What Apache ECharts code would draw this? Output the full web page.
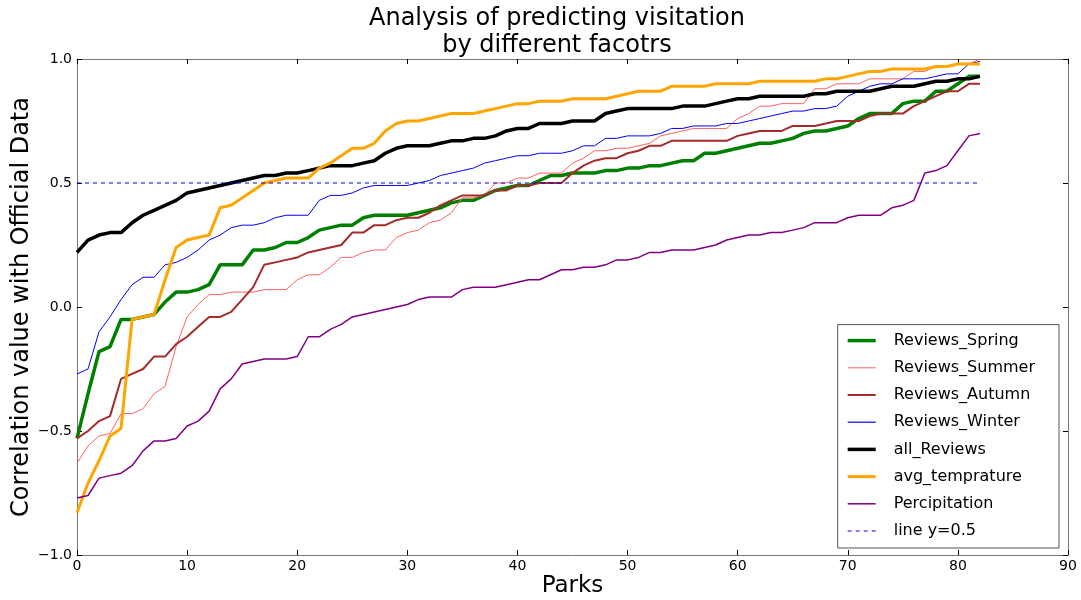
<!DOCTYPE html>
<html>
<head>
<meta charset="utf-8">
<script src="https://cdn.jsdelivr.net/npm/echarts@6/dist/echarts.min.js"></script>
<style>
  html, body { margin: 0; padding: 0; background: #fff; }
  #chart { width: 1081px; height: 600px; }
</style>
</head>
<body>
<div id="chart"></div>
<script>
// correlation of each predictor with official visitation, parks sorted per series
var spring = [-0.53, -0.35, -0.18, -0.16, -0.05, -0.05, -0.04, -0.03, 0.02, 0.06, 0.06, 0.07, 0.09, 0.17, 0.17, 0.17,
  0.23, 0.23, 0.24, 0.26, 0.26, 0.28, 0.31, 0.32, 0.33, 0.33, 0.36, 0.37, 0.37, 0.37, 0.37, 0.38,
  0.39, 0.40, 0.42, 0.43, 0.43, 0.45, 0.47, 0.48, 0.49, 0.49, 0.51, 0.53, 0.53, 0.54, 0.54,
  0.54, 0.55, 0.55, 0.56, 0.56, 0.57, 0.57, 0.58, 0.59, 0.59, 0.62, 0.62, 0.63, 0.64, 0.65,
  0.66, 0.66, 0.67, 0.68, 0.70, 0.71, 0.71, 0.72, 0.73, 0.76, 0.78, 0.78, 0.78, 0.82, 0.83, 0.83,
  0.87, 0.87, 0.90, 0.93, 0.93];
var summer = [-0.63, -0.56, -0.52, -0.51, -0.43, -0.43, -0.41, -0.35, -0.32, -0.16, -0.04, 0.01, 0.05, 0.05, 0.06, 0.06,
  0.06, 0.07, 0.07, 0.07, 0.11, 0.13, 0.13, 0.16, 0.20, 0.20, 0.22, 0.23, 0.23, 0.28, 0.30, 0.31,
  0.34, 0.35, 0.38, 0.44, 0.44, 0.45, 0.50, 0.50, 0.52, 0.52, 0.54, 0.54, 0.54, 0.58, 0.60,
  0.63, 0.63, 0.64, 0.64, 0.65, 0.66, 0.69, 0.70, 0.71, 0.72, 0.72, 0.72, 0.72, 0.76, 0.78,
  0.81, 0.81, 0.82, 0.82, 0.82, 0.88, 0.88, 0.90, 0.90, 0.90, 0.92, 0.92, 0.92, 0.92, 0.95, 0.95,
  0.97, 0.97, 0.98, 0.98, 1.00];
var autumn = [-0.53, -0.50, -0.46, -0.44, -0.29, -0.27, -0.25, -0.20, -0.20, -0.15, -0.12, -0.08, -0.04, -0.04, -0.02, 0.03,
  0.08, 0.17, 0.18, 0.19, 0.20, 0.22, 0.23, 0.24, 0.25, 0.30, 0.30, 0.33, 0.33, 0.35, 0.36, 0.36,
  0.38, 0.41, 0.43, 0.45, 0.45, 0.45, 0.47, 0.47, 0.49, 0.49, 0.50, 0.50, 0.50, 0.54, 0.57,
  0.59, 0.60, 0.60, 0.62, 0.63, 0.65, 0.65, 0.67, 0.67, 0.67, 0.67, 0.67, 0.67, 0.69, 0.70,
  0.71, 0.71, 0.71, 0.73, 0.73, 0.73, 0.74, 0.75, 0.75, 0.75, 0.77, 0.78, 0.78, 0.78, 0.81, 0.83,
  0.85, 0.87, 0.87, 0.90, 0.90];
var winter = [-0.27, -0.25, -0.10, -0.04, 0.03, 0.09, 0.12, 0.12, 0.17, 0.18, 0.20, 0.23, 0.27, 0.29, 0.32, 0.33,
  0.33, 0.34, 0.36, 0.37, 0.37, 0.37, 0.43, 0.45, 0.45, 0.46, 0.48, 0.49, 0.49, 0.49, 0.49, 0.50,
  0.51, 0.53, 0.54, 0.55, 0.56, 0.58, 0.59, 0.60, 0.61, 0.61, 0.62, 0.62, 0.62, 0.63, 0.65,
  0.65, 0.68, 0.68, 0.69, 0.69, 0.69, 0.70, 0.72, 0.72, 0.73, 0.73, 0.73, 0.74, 0.74, 0.75,
  0.76, 0.77, 0.78, 0.79, 0.79, 0.80, 0.80, 0.81, 0.85, 0.87, 0.89, 0.90, 0.90, 0.92, 0.92, 0.92,
  0.93, 0.94, 0.94, 0.98, 0.99];
var allReviews = [0.22, 0.27, 0.29, 0.30, 0.30, 0.34, 0.37, 0.39, 0.41, 0.43, 0.46, 0.47, 0.48, 0.49, 0.50, 0.51,
  0.52, 0.53, 0.53, 0.54, 0.54, 0.55, 0.56, 0.57, 0.57, 0.57, 0.58, 0.59, 0.62, 0.64, 0.65, 0.65,
  0.65, 0.66, 0.67, 0.67, 0.68, 0.68, 0.69, 0.71, 0.72, 0.72, 0.74, 0.74, 0.74, 0.75, 0.75,
  0.75, 0.78, 0.79, 0.80, 0.80, 0.80, 0.80, 0.80, 0.81, 0.81, 0.81, 0.82, 0.83, 0.84, 0.84,
  0.85, 0.85, 0.85, 0.85, 0.85, 0.86, 0.86, 0.87, 0.87, 0.87, 0.87, 0.88, 0.89, 0.89, 0.89, 0.90,
  0.91, 0.91, 0.92, 0.92, 0.93];
var avgTemp = [-0.83, -0.71, -0.62, -0.52, -0.49, -0.05, -0.04, -0.03, 0.11, 0.24, 0.27, 0.28, 0.29, 0.40, 0.41, 0.44,
  0.47, 0.50, 0.51, 0.52, 0.52, 0.52, 0.56, 0.58, 0.61, 0.64, 0.64, 0.66, 0.71, 0.74, 0.75, 0.75,
  0.76, 0.77, 0.78, 0.78, 0.78, 0.79, 0.80, 0.81, 0.82, 0.82, 0.83, 0.83, 0.83, 0.84, 0.84,
  0.84, 0.84, 0.85, 0.86, 0.87, 0.87, 0.87, 0.89, 0.89, 0.89, 0.89, 0.90, 0.90, 0.90, 0.90,
  0.91, 0.91, 0.91, 0.91, 0.91, 0.91, 0.92, 0.92, 0.93, 0.94, 0.95, 0.95, 0.96, 0.96, 0.96, 0.96,
  0.97, 0.97, 0.98, 0.98, 0.98];
var precip = [-0.77, -0.76, -0.69, -0.68, -0.67, -0.64, -0.58, -0.54, -0.54, -0.53, -0.48, -0.46, -0.42, -0.33, -0.29, -0.23,
  -0.22, -0.21, -0.21, -0.21, -0.20, -0.12, -0.12, -0.09, -0.07, -0.04, -0.03, -0.02, -0.01, 0.00, 0.01, 0.03,
  0.04, 0.04, 0.04, 0.07, 0.08, 0.08, 0.08, 0.09, 0.10, 0.11, 0.11, 0.13, 0.15, 0.15, 0.16,
  0.16, 0.17, 0.19, 0.19, 0.20, 0.22, 0.22, 0.23, 0.23, 0.23, 0.24, 0.25, 0.27, 0.28, 0.29,
  0.29, 0.30, 0.30, 0.31, 0.32, 0.34, 0.34, 0.34, 0.36, 0.37, 0.37, 0.37, 0.40, 0.41, 0.43, 0.54,
  0.55, 0.57, 0.63, 0.69, 0.70];
var refY = 0.5;

var font = 'DejaVu Sans';
var frame = '#777';

function pairs (vals) {
  // park index on x, value on y
  return vals.map(function (v, i) { return [i, v]; });
}

function line (name, vals, color, width, dash) {
  return {
    name: name,
    type: 'line',
    data: pairs(vals),
    symbol: 'none',
    showSymbol: false,
    animation: false,
    color: color,
    lineStyle: { color: color, width: width, type: dash || 'solid' },
    itemStyle: { color: color }
  };
}

// legend swatch: a flat bar of the line's thickness, 28px long
function bar (h) {
  return 'path://M0,0H28V' + h + 'H0Z';
}
var dashIcon = 'path://M0,0H4V1H0Z M8,0H12V1H8Z M16,0H20V1H16Z M24,0H28V1H24Z';

var chart = echarts.init(document.getElementById('chart'));
chart.setOption({
  backgroundColor: '#fff',
  animation: false,
  title: {
    text: 'Analysis of predicting visitation\nby different facotrs',
    left: 552,
    textAlign: 'center',
    top: 0,
    textStyle: { fontFamily: font, fontSize: 24, fontWeight: 'normal', color: '#000', lineHeight: 27 }
  },
  grid: { left: 77, right: 13, top: 59, bottom: 45, outerBoundsMode: 'none', containLabel: false },
  legend: {
    orient: 'vertical',
    right: 22,
    bottom: 52,
    padding: [8, 24, 9, 10],
    backgroundColor: '#fff',
    borderColor: '#555',
    borderWidth: 1,
    borderRadius: 0,
    itemWidth: 28,
    itemHeight: 14,
    itemGap: 11.2,
    symbolKeepAspect: true,
    itemStyle: { borderWidth: 0 },
    textStyle: { fontFamily: font, fontSize: 16, color: '#000', padding: [0, 0, 0, 13] },
    data: [
      { name: 'Reviews_Spring', icon: bar(3.5) },
      { name: 'Reviews_Summer', icon: bar(1) },
      { name: 'Reviews_Autumn', icon: bar(2) },
      { name: 'Reviews_Winter', icon: bar(1.2) },
      { name: 'all_Reviews', icon: bar(3.5) },
      { name: 'avg_temprature', icon: bar(3) },
      { name: 'Percipitation', icon: bar(1.5) },
      { name: 'line y=0.5', icon: dashIcon }
    ]
  },
  xAxis: [{
    type: 'value', min: 0, max: 90, interval: 10,
    name: 'Parks', nameLocation: 'middle', nameGap: 20, nameMoveOverlap: false,
    nameTextStyle: { fontFamily: font, fontSize: 23, color: '#000' },
    axisLine: { show: true, onZero: false, lineStyle: { color: frame } },
    axisTick: { show: true, inside: true, length: 5, lineStyle: { color: '#000' } },
    axisLabel: { fontFamily: font, fontSize: 14, color: '#000', margin: 4 },
    splitLine: { show: false }
  }, {
    type: 'value', min: 0, max: 90, interval: 10, position: 'top',
    axisLine: { show: true, onZero: false, lineStyle: { color: frame } },
    axisTick: { show: true, inside: true, length: 5, lineStyle: { color: '#000' } },
    axisLabel: { show: false },
    splitLine: { show: false }
  }],
  yAxis: [{
    type: 'value', min: -1, max: 1, interval: 0.5,
    name: 'Correlation value with Official Data', nameLocation: 'middle', nameGap: 43, nameMoveOverlap: false,
    nameTextStyle: { fontFamily: font, fontSize: 24, color: '#000' },
    axisLine: { show: true, onZero: false, lineStyle: { color: frame } },
    axisTick: { show: true, inside: true, length: 5, lineStyle: { color: '#000' } },
    axisLabel: {
      fontFamily: font, fontSize: 14, color: '#000', margin: 5,
      formatter: function (v) { return v.toFixed(1).replace('-', '\u2212'); }
    },
    splitLine: { show: false }
  }, {
    type: 'value', min: -1, max: 1, interval: 0.5, position: 'right',
    axisLine: { show: true, onZero: false, lineStyle: { color: frame } },
    axisTick: { show: true, inside: true, length: 5, lineStyle: { color: '#000' } },
    axisLabel: { show: false },
    splitLine: { show: false }
  }],
  series: [
    line('Reviews_Spring', spring, '#008000', 3.5),
    line('Reviews_Summer', summer, '#ff6060', 1),
    line('Reviews_Autumn', autumn, '#a52a2a', 2),
    line('Reviews_Winter', winter, '#0000ff', 1),
    line('all_Reviews', allReviews, '#000000', 3.5),
    line('avg_temprature', avgTemp, '#ffa500', 3),
    line('Percipitation', precip, '#800080', 1.5),
    line('line y=0.5', spring.map(function () { return refY; }), '#0000dd', 1.2, [4, 4])
  ]
});
</script>
</body>
</html>
